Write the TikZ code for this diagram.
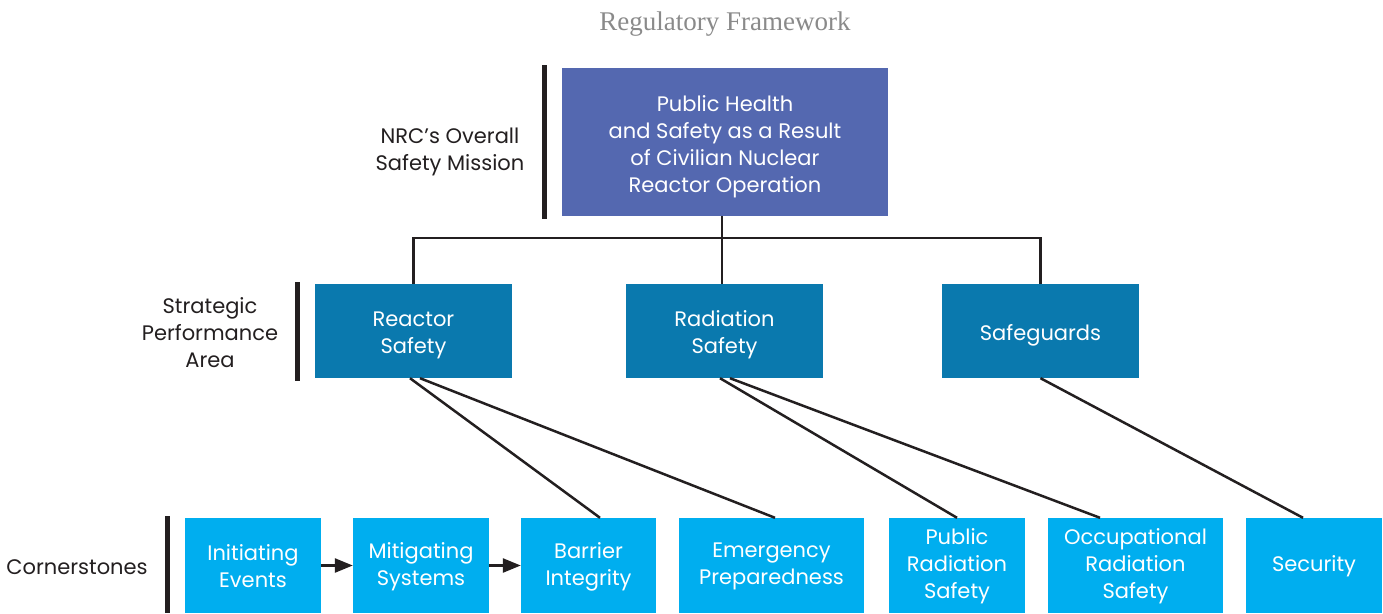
\documentclass[tikz,border=0pt]{standalone}
\usepackage{fontspec}
\setmainfont{Poppins}
\newfontfamily\titlefont{Liberation Serif}
\usetikzlibrary{arrows.meta}
\definecolor{missionblue}{HTML}{5468B0}
\definecolor{areablue}{HTML}{0A79AE}
\definecolor{stoneblue}{HTML}{00AEEF}
\definecolor{titlegrey}{HTML}{8A8A8A}
\definecolor{linegrey}{HTML}{231F20}
\tikzset{
  box/.style={inner sep=0pt, align=center, text=white, font=\fontsize{21}{27}\selectfont},
  label/.style={align=center, text=linegrey, font=\fontsize{21}{27}\selectfont},
  link/.style={draw=linegrey, line width=2.5pt},
  levelbar/.style={draw=linegrey, line width=5pt}
}
\begin{document}
\begin{tikzpicture}[x=1pt,y=-1pt]
                \useasboundingbox (0,0) rectangle (1383,613);
                % title
                \node[font=\titlefont\fontsize{27}{30}\selectfont, text=titlegrey] (title) at (725,24) {Regulatory Framework};

                % mission level
                \node[box, fill=missionblue, minimum width=326pt, minimum height=148pt] (mission) at (725,142) {};
                \node[box] (missiontxt) at (725,147) {Public Health\\and Safety as a Result\\of Civilian Nuclear\\Reactor Operation};
                \node[label] (lmission) at (450,152) {NRC’s Overall\\Safety Mission};
                \draw[levelbar] (544,65) -- (544,219);

                % strategic performance areas
                \foreach \name/\x/\txt in {reactor/413.5/{Reactor\\Safety}, radiation/724.5/{Radiation\\Safety}, safeguards/1040.5/{Safeguards}} {
                    \node[box, fill=areablue, minimum width=197pt, minimum height=94pt] (\name) at (\x,331) {};
                    \node[box] (\name txt) at (\x,335) {\txt};
                }
                \node[label] (larea) at (210,333) {Strategic\\Performance\\Area};
                \draw[levelbar] (297,282) -- (297,381);

                % cornerstones
                \foreach \name/\x/\w/\txt in {init/253/136/{Initiating\\Events}, mitig/421/136/{Mitigating\\Systems}, barrier/588.5/135/{Barrier\\Integrity}, emerg/771.5/185/{Emergency\\Preparedness}, public/957/136/{Public\\Radiation\\Safety}, occup/1135.5/175/{Occupational\\Radiation\\Safety}, secur/1314/136/{Security}} {
                    \node[box, fill=stoneblue, minimum width=\w pt, minimum height=95pt] (\name) at (\x,565.5) {};
                    \node[box] (\name txt) at (\x,566.5) {\txt};
                }
                \node[label] (lstone) at (77,567) {Cornerstones};
                \draw[levelbar] (167.5,516) -- (167.5,613);

                % tree
                \coordinate (fork) at (722,238);
                \draw[link] (mission.south -| fork) -- (fork);
                \draw[link] (reactor.north) |- (fork) -| (safeguards.north);
                \draw[link] (fork) -- (fork |- radiation.north);

                \draw[link] ([xshift=-3.5pt]reactor.south) -- ([xshift=11.5pt]barrier.north);
                \draw[link] ([xshift=6.5pt]reactor.south) -- ([xshift=3.5pt]emerg.north);
                \draw[link] ([xshift=-4.5pt]radiation.south) -- (public.north);
                \draw[link] ([xshift=5.5pt]radiation.south) -- ([xshift=-35.5pt]occup.north);
                \draw[link] (safeguards.south) -- ([xshift=-11pt]secur.north);

                \draw[link, -{Triangle[length=18pt, width=14pt]}] (init) -- (mitig);
                \draw[link, -{Triangle[length=18pt, width=14pt]}] (mitig) -- (barrier);
\end{tikzpicture}
\end{document}
